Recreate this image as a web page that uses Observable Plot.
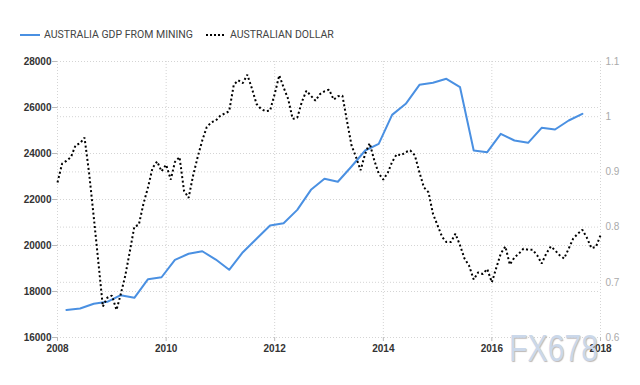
<!DOCTYPE html>
<html>
<head>
<meta charset="utf-8">
<script src="https://cdn.jsdelivr.net/npm/d3@7"></script>
<script src="https://cdn.jsdelivr.net/npm/@observablehq/plot@0.6"></script>
<style>
  html, body { margin: 0; padding: 0; background: #fff; width: 640px; height: 385px; overflow: hidden; }
  #wrap { position: relative; width: 640px; height: 385px; }
  #legend { height: 45px; box-sizing: border-box; padding: 25px 0 0 20px; font-family: Roboto, "Liberation Sans", sans-serif; font-size: 10.5px; color: #444; display: flex; align-items: center; line-height: 14px; }
  #legend .item { display: flex; align-items: center; }
  #legend svg { display: block; }
  #legend .lbl { margin-left: 4px; }
  #watermark { position: absolute; left: 509px; top: 328px; font-family: "Liberation Sans", Arial, sans-serif; font-size: 36px; color: #cbd8ea; transform: scaleX(0.84); transform-origin: left top; text-shadow: 1px 1px 1px rgba(110,100,95,0.45); pointer-events: none; }
  svg text { font-family: "Liberation Sans", Arial, sans-serif; }
</style>
</head>
<body>
<div id="wrap">
  <div id="legend"></div>
  <div id="chart"></div>
  <div id="watermark">FX678</div>
</div>
<script>
// ---- Data ----
const seriesNames = ["AUSTRALIA GDP FROM MINING", "AUSTRALIAN DOLLAR"];

// Quarterly GDP from mining (AUD million), first quarter reading at March 2008
const gdpValues = [
  17200, 17260, 17465, 17550,
  17840, 17725, 18535, 18620,
  19378, 19640, 19750, 19390,
  18943, 19710, 20290, 20870,
  20970, 21550, 22420, 22900,
  22770, 23435, 24130, 24420,
  25680, 26160, 26987, 27074,
  27248, 26883, 24130, 24057,
  24857, 24565, 24465, 25117,
  25043, 25435, 25726
];

// Monthly AUD/USD, January 2008 .. January 2018
const audValues = [
  0.881, 0.915, 0.920, 0.927, 0.948, 0.952, 0.962, 0.897, 0.818, 0.739, 0.656, 0.672,
  0.676, 0.650, 0.678, 0.712, 0.755, 0.801, 0.804, 0.842, 0.872, 0.907, 0.919, 0.901,
  0.913, 0.886, 0.918, 0.927, 0.866, 0.853, 0.893, 0.927, 0.957, 0.981, 0.990, 0.993,
  1.002, 1.006, 1.010, 1.058, 1.066, 1.061, 1.076, 1.051, 1.023, 1.014, 1.010, 1.011,
  1.041, 1.075, 1.053, 1.032, 0.996, 0.998, 1.026, 1.047, 1.038, 1.029, 1.041, 1.046,
  1.049, 1.031, 1.037, 1.038, 0.993, 0.948, 0.927, 0.903, 0.933, 0.952, 0.921, 0.897,
  0.886, 0.899, 0.918, 0.932, 0.930, 0.936, 0.939, 0.930, 0.899, 0.872, 0.863, 0.824,
  0.803, 0.782, 0.773, 0.773, 0.788, 0.767, 0.743, 0.730, 0.705, 0.718, 0.715, 0.724,
  0.700, 0.727, 0.752, 0.765, 0.732, 0.745, 0.752, 0.761, 0.759, 0.759, 0.749, 0.734,
  0.752, 0.765, 0.758, 0.749, 0.743, 0.761, 0.779, 0.788, 0.795, 0.781, 0.762, 0.764,
  0.785
];

const leftTicks = [16000, 18000, 20000, 22000, 24000, 26000, 28000];
const rightTicks = [0.6, 0.7, 0.8, 0.9, 1.0, 1.1];
const rightTickLabels = ["0.6", "0.7", "0.8", "0.9", "1", "1.1"];
const yearTicks = [2008, 2010, 2012, 2014, 2016, 2018];

// ---- Build tables ----
const gdp = gdpValues.map((v, i) => ({date: new Date(Date.UTC(2008, 2 + 3 * i, 1)), value: v}));
const aud = audValues.map((v, i) => ({date: new Date(Date.UTC(2008, i, 1)), value: v}));

// Map right axis (AUD) onto the left (GDP) scale domain
const leftDomain = [16000, 28000];
const rightDomain = [0.6, 1.1];
const toLeft = d3.scaleLinear(rightDomain, leftDomain);

const blue = "#4a90e2";
const gridColor = "#d4d4d4";

// ---- Legend ----
const legend = document.getElementById("legend");
legend.innerHTML = `
  <div class="item">
    <svg width="20" height="10"><line x1="0" x2="20" y1="5" y2="5" stroke="${blue}" stroke-width="2"/></svg>
    <span class="lbl">${seriesNames[0]}</span>
  </div>
  <div class="item" style="margin-left:13px">
    <svg width="20" height="10"><line x1="0" x2="20" y1="5" y2="5" stroke="#000" stroke-width="2" stroke-dasharray="2,2"/></svg>
    <span class="lbl">${seriesNames[1]}</span>
  </div>`;

// ---- Chart ----
const yearDates = yearTicks.map(y => new Date(Date.UTC(y, 0, 1)));

const chart = Plot.plot({
  width: 640,
  height: 340,
  marginTop: 16,
  marginBottom: 48,
  marginLeft: 57,
  marginRight: 40,
  style: {background: "transparent", overflow: "visible"},
  x: {type: "utc", domain: [yearDates[0], yearDates[yearDates.length - 1]]},
  y: {domain: leftDomain},
  marks: [
    Plot.gridY(leftTicks, {stroke: gridColor, strokeOpacity: 1, strokeDasharray: "1,2"}),
    Plot.gridY(rightTicks.map(toLeft), {stroke: gridColor, strokeOpacity: 1, strokeDasharray: "1,2"}),
    Plot.gridX(yearDates, {stroke: gridColor, strokeOpacity: 1, strokeDasharray: "1,2"}),
    Plot.axisY(leftTicks, {
      anchor: "left", tickSize: 5, tickPadding: 1, stroke: "#bbb",
      tickFormat: d3.format("d"),
      fill: "#333", fontSize: 10, fontWeight: "bold", label: null
    }),
    Plot.axisY(rightTicks.map(toLeft), {
      anchor: "right", tickSize: 0, tickPadding: 5,
      tickFormat: (d, i) => rightTickLabels[i],
      fill: "#aaa", fontSize: 10, label: null
    }),
    Plot.axisX(yearDates, {
      anchor: "bottom", tickSize: 4, tickPadding: 3, stroke: "#bbb",
      tickFormat: d3.utcFormat("%Y"), fill: "#333", fontSize: 10, fontWeight: "bold", label: null
    }),
    Plot.line(gdp, {x: "date", y: "value", stroke: blue, strokeWidth: 2}),
    Plot.line(aud, {x: "date", y: d => toLeft(d.value), stroke: "#000", strokeWidth: 2, strokeDasharray: "2,2.5", strokeLinecap: "butt", strokeLinejoin: "miter"})
  ]
});
document.getElementById("chart").appendChild(chart);
</script>
</body>
</html>
